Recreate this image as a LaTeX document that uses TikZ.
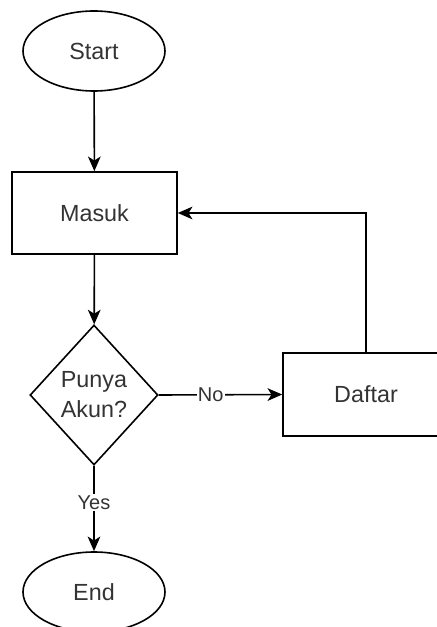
\documentclass[tikz,border=0pt]{standalone}
\usepackage{fontspec}
\setmainfont{Liberation Sans}
\usetikzlibrary{shapes.geometric,arrows.meta}
\definecolor{txtgray}{HTML}{333333}

\begin{document}
\begin{tikzpicture}[x=0.75pt,y=-0.75pt,
    line width=1.2pt,
    terminal/.style={draw,ellipse,minimum width=106.5pt,minimum height=60pt,inner sep=0pt,font=\fontsize{17.5}{21}\selectfont,text=txtgray},
    prosesbox/.style={draw,rectangle,minimum width=123.75pt,minimum height=61.5pt,inner sep=0pt,font=\fontsize{17.5}{21}\selectfont,text=txtgray},
    keputusan/.style={draw,diamond,minimum width=96pt,minimum height=105pt,inner sep=0pt,align=center,font=\fontsize{17.5}{22.5}\selectfont,text=txtgray},
    panah/.style={-{Stealth[length=11pt,width=9.5pt,inset=3pt]}},
    labelpanah/.style={fill=white,inner sep=1pt,font=\fontsize{15}{18}\selectfont,text=txtgray}]
\useasboundingbox (0,0) rectangle (436,627);

%START
\node[terminal] (start) at (94,51) {Start};

%MASUK
\node[prosesbox] (masuk) at (94.5,213) {Masuk};

%PUNYA AKUN?
\node[keputusan] (akun) at (94,395) {Punya\\Akun?};

%DAFTAR (rechts, abgeschnitten)
\node[prosesbox,minimum width=124.5pt,minimum height=62.25pt] (daftar) at (366,394.5) {Daftar};

%END
\node[terminal] (end) at (94,592) {End};

%PFEILE
\draw[panah] (start) -- (masuk);
\draw[panah] (masuk) -- (akun);
\draw[panah] (akun.east) -- node[labelpanah,pos=0.42] {No} (daftar.west);
\draw[panah] (daftar.north) |- (masuk.east);
\draw[panah] (akun.south) -- node[labelpanah,pos=0.43] {Yes} (end.north);

\end{tikzpicture}
\end{document}
